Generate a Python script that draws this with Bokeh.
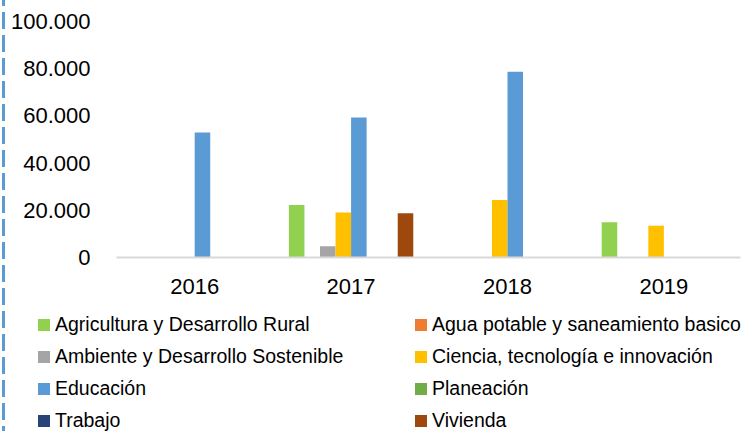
from bokeh.plotting import figure
from bokeh.models import Range1d, FixedTicker, Legend, LegendItem, ColumnDataSource, Div
from bokeh.layouts import row, column
from bokeh.transform import dodge
from bokeh.embed import file_html
from bokeh.resources import INLINE

# ---------------- data ----------------
years = ["2016", "2017", "2018", "2019"]
year_pos = [0, 1, 2, 3]

series_names = [
    "Agricultura y Desarrollo Rural",
    "Agua potable y saneamiento basico",
    "Ambiente y Desarrollo Sostenible",
    "Ciencia, tecnología e innovación",
    "Educación",
    "Planeación",
    "Trabajo",
    "Vivienda",
]
agricultura = [0, 22200, 0, 14900]
agua = [0, 0, 0, 0]
ambiente = [0, 4800, 0, 0]
ciencia = [0, 19100, 24350, 13430]
educacion = [52950, 59300, 78750, 0]
planeacion = [0, 0, 0, 0]
trabajo = [0, 0, 0, 0]
vivienda = [0, 18800, 0, 0]

series_keys = ["agricultura", "agua", "ambiente", "ciencia",
               "educacion", "planeacion", "trabajo", "vivienda"]
series_colors = ["#92D050", "#ED7D31", "#A5A5A5", "#FFC000",
                 "#5B9BD5", "#70AD47", "#264478", "#9E480E"]

y_ticks = [0, 20000, 40000, 60000, 80000, 100000]
y_tick_labels = ["0", "20.000", "40.000", "60.000", "80.000", "100.000"]

FONT = "Liberation Sans"

src = ColumnDataSource(dict(
    x=year_pos, agricultura=agricultura, agua=agua, ambiente=ambiente,
    ciencia=ciencia, educacion=educacion, planeacion=planeacion,
    trabajo=trabajo, vivienda=vivienda))

bw = 0.0994
n = len(series_keys)

# ---------------- main chart ----------------
p = figure(width=737, height=300, output_backend="svg", toolbar_location=None,
           x_range=Range1d(-0.5, 3.49), y_range=Range1d(0, 100000),
           min_border_left=110, min_border_right=3, min_border_top=21,
           min_border_bottom=43)
p.frame_align = False
p.outline_line_color = None
p.grid.visible = False

for k, (key, col) in enumerate(zip(series_keys, series_colors)):
    p.vbar(x=dodge("x", (k - (n - 1) / 2) * bw, range=p.x_range), top=key,
           width=bw, source=src, fill_color=col, line_color=None)

p.xaxis.ticker = FixedTicker(ticks=year_pos)
p.xaxis.major_label_overrides = {pos: lab for pos, lab in zip(year_pos, years)}
p.xaxis.major_tick_line_color = None
p.xaxis.minor_tick_line_color = None
p.xaxis.axis_line_color = "#D9D9D9"
p.xaxis.axis_line_width = 2
p.xaxis.major_label_text_font = FONT
p.xaxis.major_label_text_font_size = "22px"
p.xaxis.major_label_text_color = "black"
p.xaxis.major_label_standoff = 15

p.yaxis.ticker = FixedTicker(ticks=y_ticks)
p.yaxis.major_label_overrides = {t: lab for t, lab in zip(y_ticks, y_tick_labels)}
p.yaxis.major_tick_line_color = None
p.yaxis.minor_tick_line_color = None
p.yaxis.axis_line_color = None
p.yaxis.major_label_text_font = FONT
p.yaxis.major_label_text_font_size = "22px"
p.yaxis.major_label_text_color = "black"
p.yaxis.major_label_standoff = 20

# ---------------- legend panel (2 columns) ----------------
leg = figure(width=737, height=131, output_backend="svg", toolbar_location=None,
             x_range=Range1d(10, 11), y_range=Range1d(10, 11),
             x_axis_location=None, y_axis_location=None,
             min_border=0, min_border_left=0, min_border_right=0,
             min_border_top=0, min_border_bottom=0)
leg.frame_align = False
leg.outline_line_color = None
leg.grid.visible = False

items = []
for name, key, col in zip(series_names, series_keys, series_colors):
    # proxy renderer sharing the chart data; hidden, used only for its legend swatch
    r = leg.vbar(x="x", top=key, width=bw, source=src, fill_color=col,
                 line_color=None, visible=False)
    items.append(LegendItem(label=name, renderers=[r]))

legend = Legend(items=items, orientation="horizontal", ncols=2,
                location=(30, -1), margin=0, padding=0, spacing=9,
                glyph_width=15, glyph_height=15, label_standoff=4,
                label_width=349, label_height=23,
                label_text_font=FONT, label_text_font_size="19.5px",
                label_text_color="black",
                border_line_color=None, background_fill_alpha=0)
leg.add_layout(legend, "center")

# ---------------- dashed left border ----------------
dash = Div(text="", width=6, height=431, margin=0, styles={
    "background-image": "linear-gradient(to bottom, #5B9BD5 0px, #5B9BD5 17px, rgba(0,0,0,0) 17px, rgba(0,0,0,0) 23px)",
    "background-size": "3px 23px",
    "background-repeat": "repeat-y",
    "background-position": "2px 12px",
})

layout = row(dash, column(p, leg))

open("out.html", "w").write(file_html(layout, INLINE))
